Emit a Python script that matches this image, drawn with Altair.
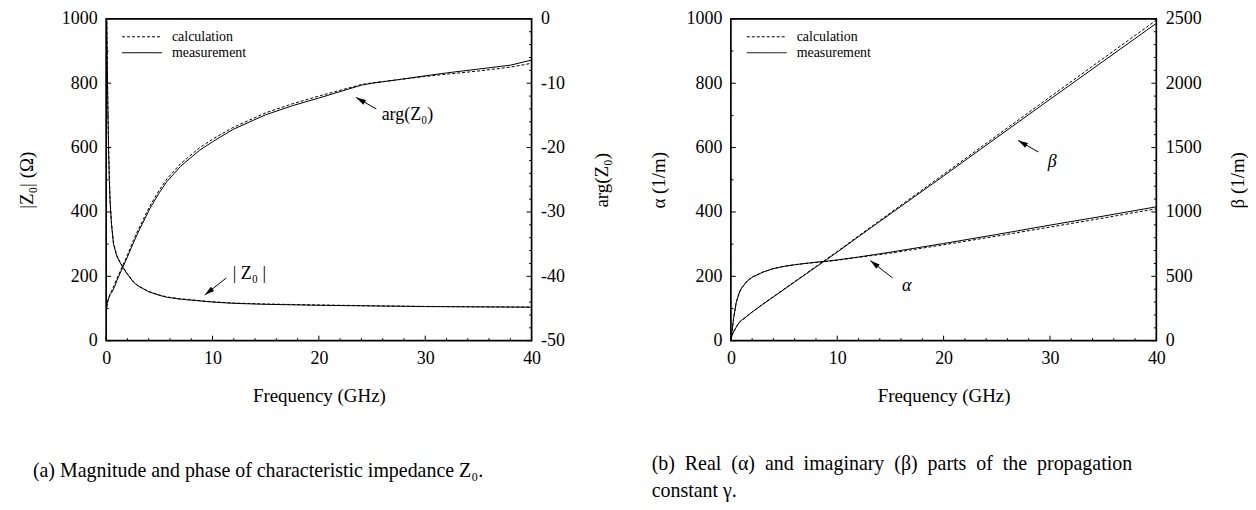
import altair as alt
import pandas as pd

FONT = "Liberation Serif"

# ---------------- data ----------------
# (a) |Z0| (left axis, ohm)
Z_FREQ = [0.03, 0.07, 0.1, 0.15, 0.22, 0.3, 0.37, 0.5, 0.69, 1.0, 1.3, 1.56, 2.0, 2.56, 3.0,
          4.0, 5.0, 5.7, 7.0, 8.0, 9.3, 10, 12, 15, 20, 25, 30, 35, 40]
Z_MAG_MEAS = [1080, 950, 870, 740, 607, 500, 430, 362, 300, 262, 243, 228, 206, 182, 170,
              152, 141, 135, 129, 126, 122, 120, 116, 113, 110, 108, 106, 105, 104]
Z_MAG_CALC = [1100, 990, 900, 760, 620, 510, 440, 368, 305, 265, 245, 230, 208, 184, 171,
              153, 142, 136, 130, 127, 123, 121, 117, 114, 111, 108.5, 106.5, 105.5, 104.5]

# (a) arg(Z0) (right axis, degrees)
ARG_FREQ = [0.02, 0.1, 0.2, 0.37, 0.5, 0.8, 1.0, 1.56, 2.0, 2.56, 3.0, 4.1, 5.0, 5.7, 7.0,
            8.8, 10, 11.9, 13.5, 15, 17.5, 20, 22, 24, 25, 27, 30, 32, 35, 38, 40]
ARG_MEAS = [-45.3, -44.2, -43.6, -42.8, -42.6, -41.6, -40.7, -38.6, -37.0, -34.8, -33.2,
            -29.5, -27.0, -25.3, -22.9, -20.4, -19.1, -17.2, -16.0, -14.9, -13.5, -12.3,
            -11.3, -10.3, -10.0, -9.55, -8.85, -8.4, -7.8, -7.2, -6.4]
ARG_CALC = [-45.5, -44.3, -43.6, -42.7, -42.3, -41.2, -40.4, -38.3, -36.7, -34.4, -32.8,
            -29.1, -26.6, -24.9, -22.5, -20.0, -18.7, -16.9, -15.7, -14.6, -13.2, -12.0,
            -11.1, -10.2, -9.95, -9.55, -8.95, -8.6, -8.1, -7.5, -6.9]

# (b) alpha (left axis) and beta (right axis), 1/m
G_FREQ = [0, 0.1, 0.25, 0.5, 0.78, 1, 1.5, 2, 3, 4, 5, 6, 7, 8, 9, 10, 12, 15, 20, 25, 30, 35, 40]
ALPHA_MEAS = [0, 25, 68, 118, 148, 163, 184, 197, 213, 224, 231, 236, 240, 244, 247, 251,
              260, 275, 302, 330, 359, 387, 416]
ALPHA_CALC = [0, 26, 69, 119, 149, 164, 185, 198, 213, 224, 231, 236, 240, 243, 246, 250,
              259, 272, 298, 325, 353, 381, 410]
BETA_MEAS = [0, 40, 70, 105, 142, 158, 190, 222, 282, 340, 398, 456, 514, 572, 630, 688,
             808, 985, 1280, 1578, 1875, 2170, 2465]
BETA_CALC = [0, 40, 70, 105, 142, 158, 190, 223, 284, 343, 401, 460, 518, 577, 635, 693,
             814, 993, 1292, 1593, 1893, 2192, 2490]

# axis ticks
X_MAJOR = [0, 10, 20, 30, 40]
X_MINOR = [2, 4, 6, 8, 12, 14, 16, 18, 22, 24, 26, 28, 32, 34, 36, 38]
ZMAG_MAJOR = [0, 200, 400, 600, 800, 1000]
ZMAG_MINOR = [100, 300, 500, 700, 900]
ARG_MAJOR = [-50, -40, -30, -20, -10, 0]
ARG_MINOR = [-48, -46, -44, -42, -38, -36, -34, -32, -28, -26, -24, -22,
             -18, -16, -14, -12, -8, -6, -4, -2]
ALPHA_MAJOR = [0, 200, 400, 600, 800, 1000]
ALPHA_MINOR = [100, 300, 500, 700, 900]
BETA_MAJOR = [0, 500, 1000, 1500, 2000, 2500]
BETA_MINOR = [100, 200, 300, 400, 600, 700, 800, 900, 1100, 1200, 1300, 1400,
              1600, 1700, 1800, 1900, 2100, 2200, 2300, 2400]

# annotations: arrow tail (f, v) -> tip (f2, v2), label position
ZMAG_ARROW = {"f": [11.3], "v": [195], "f2": [9.27], "v2": [142]}
ZMAG_LABEL = {"f": [11.9], "v": [207], "t": ["| Z₀ |"]}
ARG_ARROW = {"f": [25.4], "v": [-14.0], "f2": [23.5], "v2": [-12.2]}
ARG_LABEL = {"f": [25.9], "v": [-15.0], "t": ["arg(Z₀)"]}
ALPHA_ARROW = {"f": [15.2], "v": [195], "f2": [13.1], "v2": [249]}
ALPHA_LABEL = {"f": [16.1], "v": [170], "t": ["α"]}
BETA_ARROW = {"f": [28.9], "v": [1466], "f2": [27.0], "v2": [1556]}
BETA_LABEL = {"f": [29.8], "v": [1389], "t": ["β"]}

LEGEND = ["calculation", "measurement"]
CAPTION_A = ["(a) Magnitude and phase of characteristic impedance Z₀."]
CAPTION_B = ["(b) Real (α) and imaginary (β) parts of the propagation", "constant γ."]

# ---------------- layout constants ----------------
W, H = 427, 323
MAJ, MIN = 5, 2.5
DASH = [3, 2]
ARROW_PATH = "M0,0 L0.9,3.3 L-0.9,3.3 Z"
NUM = "'' + datum.value"

xs = alt.Scale(domain=[0, 40], nice=False, zero=False)


def x_axis():
    return alt.Axis(title="Frequency (GHz)", values=X_MAJOR, ticks=False, tickSize=0,
                    domain=False, grid=False, labelPadding=9, labelFlush=False,
                    labelExpr=NUM, titleY=61, titleBaseline="alphabetic")


def y_axis(title, values, orient, tx):
    return alt.Axis(title=title, values=values, ticks=False, tickSize=0, domain=False,
                    grid=False, labelPadding=9, orient=orient, titleX=tx, titleAngle=270,
                    titleBaseline="middle", titleAlign="center", labelExpr=NUM)


def X(field, axis=None):
    return alt.X(field, scale=xs, axis=axis) if axis is not None else alt.X(field, scale=xs)


def Y(field, ys, axis=None):
    return alt.Y(field, scale=ys, axis=axis) if axis is not None else alt.Y(field, scale=ys)


def lines(freq, meas, calc, ys, axis, with_x_axis):
    df = pd.DataFrame({"f": freq, "m": meas, "c": calc})
    base = alt.Chart(df)
    xa = x_axis() if with_x_axis else None
    m = base.mark_line(color="black", strokeWidth=1, clip=True).encode(
        x=X("f:Q", xa), y=Y("m:Q", ys, axis))
    c = base.mark_line(color="black", strokeWidth=1, strokeDash=DASH, clip=True).encode(
        x=X("f:Q"), y=Y("c:Q", ys))
    return [m, c]


def y_ticks(values, ys, side, length):
    df = pd.DataFrame({"v": values})
    if side == "left":
        xa, xb = 0, length
    else:
        xa, xb = W, W - length
    return alt.Chart(df).mark_rule(color="black", strokeWidth=1).encode(
        y=Y("v:Q", ys), x=alt.value(xa), x2=alt.value(xb))


def x_ticks(values, length):
    df = pd.DataFrame({"v": values})
    return alt.Chart(df).mark_rule(color="black", strokeWidth=1).encode(
        x=X("v:Q"), y=alt.value(H), y2=alt.value(H - length))


def arrow(d, ys, angle):
    df = pd.DataFrame(d)
    shaft = alt.Chart(df).mark_rule(color="black", strokeWidth=1).encode(
        x=X("f:Q"), y=Y("v:Q", ys), x2="f2:Q", y2="v2:Q")
    head = alt.Chart(df).mark_point(shape=ARROW_PATH, filled=True, size=36, angle=angle,
                                    color="black", opacity=1, strokeWidth=0).encode(
        x=X("f2:Q"), y=Y("v2:Q", ys))
    return [shaft, head]


def label(d, ys, italic=False):
    df = pd.DataFrame(d)
    return alt.Chart(df).mark_text(align="left", baseline="middle", font=FONT, fontSize=18,
                                   fontStyle="italic" if italic else "normal",
                                   color="black").encode(
        x=X("f:Q"), y=Y("v:Q", ys), text="t:N")


def legend():
    one = pd.DataFrame({"k": [0]})
    out = []
    ys_ = [18, 34]
    dashes = [DASH, [1, 0]]
    for name, yy, dsh in zip(LEGEND, ys_, dashes):
        out.append(alt.Chart(one).mark_rule(color="black", strokeWidth=1, strokeDash=dsh).encode(
            x=alt.value(16), x2=alt.value(56), y=alt.value(yy)))
        out.append(alt.Chart(one).mark_text(text=name, align="left", baseline="middle",
                                            font=FONT, fontSize=14, color="black").encode(
            x=alt.value(66), y=alt.value(yy + 0.5)))
    return out


def caption(lines_, dx, offset):
    return alt.TitleParams(text=lines_, orient="bottom", anchor="start", dx=dx, offset=offset,
                           baseline="top", font=FONT, fontSize=20, fontWeight="normal",
                           color="black", lineHeight=27, frame="bounds")


# ---------------- panel (a) ----------------
zs = alt.Scale(domain=[0, 1000], nice=False, zero=False)
as_ = alt.Scale(domain=[-50, 0], nice=False, zero=False)

layer_z = alt.layer(
    *lines(Z_FREQ, Z_MAG_MEAS, Z_MAG_CALC, zs,
           y_axis("|Z₀| (Ω)", ZMAG_MAJOR, "left", -80), True),
    y_ticks(ZMAG_MAJOR, zs, "left", MAJ), y_ticks(ZMAG_MINOR, zs, "left", MIN),
    x_ticks(X_MAJOR, MAJ), x_ticks(X_MINOR, MIN),
    *arrow(ZMAG_ARROW, zs, 232), label(ZMAG_LABEL, zs),
    *legend(),
)
layer_arg = alt.layer(
    *lines(ARG_FREQ, ARG_MEAS, ARG_CALC, as_,
           y_axis("arg(Z₀)", ARG_MAJOR, "right", 70), False),
    y_ticks(ARG_MAJOR, as_, "right", MAJ), y_ticks(ARG_MINOR, as_, "right", MIN),
    *arrow(ARG_ARROW, as_, 300), label(ARG_LABEL, as_),
)
panel_a = alt.layer(layer_z, layer_arg).resolve_scale(y="independent").properties(
    width=W, height=H, title=caption(CAPTION_A, 15.5, 56))

# ---------------- panel (b) ----------------
als = alt.Scale(domain=[0, 1000], nice=False, zero=False)
bs = alt.Scale(domain=[0, 2500], nice=False, zero=False)

layer_alpha = alt.layer(
    *lines(G_FREQ, ALPHA_MEAS, ALPHA_CALC, als,
           y_axis("α (1/m)", ALPHA_MAJOR, "left", -73), True),
    y_ticks(ALPHA_MAJOR, als, "left", MAJ), y_ticks(ALPHA_MINOR, als, "left", MIN),
    x_ticks(X_MAJOR, MAJ), x_ticks(X_MINOR, MIN),
    *arrow(ALPHA_ARROW, als, 308), label(ALPHA_LABEL, als, italic=True),
    *legend(),
)
layer_beta = alt.layer(
    *lines(G_FREQ, BETA_MEAS, BETA_CALC, bs,
           y_axis("β (1/m)", BETA_MAJOR, "right", 81), False),
    y_ticks(BETA_MAJOR, bs, "right", MAJ), y_ticks(BETA_MINOR, bs, "right", MIN),
    *arrow(BETA_ARROW, bs, 300), label(BETA_LABEL, bs, italic=True),
)
cap_b = [CAPTION_B[0].replace(" ", " \u00a0"), CAPTION_B[1]]
panel_b = alt.layer(layer_alpha, layer_beta).resolve_scale(y="independent").properties(
    width=W, height=H, title=caption(cap_b, 2.5, 49))

chart = alt.hconcat(panel_a, panel_b, spacing=36).properties(
    padding={"left": 8.5, "top": 0, "right": 0, "bottom": 0},
    background="white",
).configure_view(stroke="black", strokeWidth=1.7).configure_axis(
    labelFont=FONT, titleFont=FONT, labelFontSize=18, titleFontSize=19,
    titleFontWeight="normal", labelColor="black", titleColor="black"
)

chart.save("out.html", embed_options={"renderer": "svg", "actions": False})
